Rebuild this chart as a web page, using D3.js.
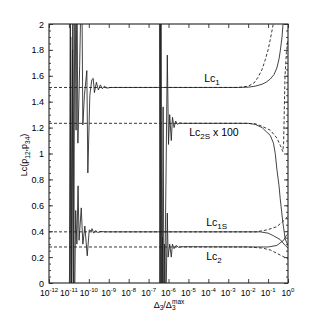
<!DOCTYPE html>
<html>
<head>
<meta charset="utf-8">
<script src="https://cdn.jsdelivr.net/npm/d3@7"></script>
<style>
  body { margin: 0; background: #fff; }
  text { font-family: "Liberation Sans", Arial, sans-serif; fill: #000; }
</style>
</head>
<body>
<script>
"use strict";
(function () {
    // ---- data (x given as log10 of D3/D3max) ----
    const xDecades = d3.range(-12, 1)
    const yTicks = [0, 0.2, 0.4, 0.6, 0.8, 1, 1.2, 1.4, 1.6, 1.8, 2]
    const yMinor = d3.range(0, 2.0001, 0.05)

    // solid curves
    const lc1 = [[-10.95,-0.5],[-10.91,1.9],[-10.87,-0.5],[-10.82,1.8],[-10.77,-0.5],[-10.70,2.5],[-10.64,1.18],[-10.60,2.5],
        [-10.55,1.08],[-10.46,1.68],[-10.36,2.5],[-10.30,1.22],[-10.22,1.45],[-10.10,1.64],[-10.05,0.85],[-9.95,1.45],
        [-9.85,1.57],[-9.78,1.58],[-9.72,1.47],[-9.62,1.55],[-9.52,1.49],[-9.42,1.53],[-9.32,1.50],[-9.22,1.52],
        [-9.10,1.505],[-8.9,1.51],[-2.5,1.51],[-2.0,1.512],[-1.65,1.52],[-1.3,1.535],[-1.1,1.55],[-0.89,1.575],
        [-0.7,1.61],[-0.56,1.66],[-0.45,1.73],[-0.39,1.79],[-0.3,1.9],[-0.25,2.0],[-0.2,2.1]]
    const lc2s = [[-6.46,2.5],[-6.42,-0.5],[-6.38,2.5],[-6.33,-0.5],[-6.27,1.36],[-6.22,-0.5],[-6.12,0.9],[-6.06,1.76],
        [-6.0,1.07],[-5.94,1.30],[-5.86,1.10],[-5.80,1.28],[-5.72,1.20],[-5.64,1.25],[-5.55,1.225],[-5.45,1.236],
        [-5.3,1.233],[-2.0,1.233],[-1.65,1.225],[-1.3,1.2],[-1.1,1.17],[-0.89,1.14],[-0.73,1.08],[-0.64,1.0],
        [-0.56,0.88],[-0.45,0.75],[-0.39,0.65],[-0.26,0.47],[-0.14,0.34],[0,0.29]]
    const lc1s = [[-10.98,-0.5],[-10.93,2.5],[-10.88,-0.5],[-10.80,2.5],[-10.74,-0.5],[-10.66,0.56],[-10.60,0.30],
        [-10.54,0.75],[-10.49,0.33],[-10.38,0.58],[-10.30,0.30],[-10.20,0.44],[-10.08,0.21],[-9.98,0.41],[-9.88,0.40],
        [-9.84,0.42],[-9.76,0.385],[-9.66,0.405],[-9.55,0.39],[-9.4,0.398],[-9.2,0.395],[-1.4,0.395],[-1.0,0.385],
        [-0.73,0.365],[-0.39,0.335],[-0.14,0.29],[0,0.27]]
    const lc2 = [[-6.44,-0.5],[-6.40,2.5],[-6.36,-0.5],[-6.30,0.35],[-6.26,-0.5],[-6.20,0.3],[-6.14,-0.3],[-6.06,0.54],
        [-6.02,0.20],[-5.94,0.30],[-5.86,0.20],[-5.80,0.30],[-5.72,0.265],[-5.62,0.29],[-5.5,0.276],[-5.35,0.28],
        [-1.0,0.278],[-0.56,0.29],[-0.22,0.33],[-0.07,0.37],[0,0.38]]

    // dashed curves
    const lc1Dash = [[-12,1.51],[-2.5,1.51],[-2.0,1.52],[-1.7,1.545],[-1.5,1.59],[-1.3,1.65],[-1.15,1.72],[-1.0,1.80],
        [-0.89,1.88],[-0.74,2.0],[-0.6,2.15]]
    const lc2sDash = [[-12,1.233],[-2.2,1.233],[-1.65,1.23],[-1.3,1.21],[-0.89,1.18],[-0.56,1.12],[-0.38,1.06],
        [-0.3,1.03],[-0.26,1.015],[-0.22,1.08],[-0.19,1.3],[-0.15,1.6],[-0.08,1.78],[0,1.88]]
    const lc1sDash = [[-12,0.395],[-1.6,0.395],[-1.05,0.41],[-0.56,0.435],[-0.26,0.475],[-0.14,0.49],[0,0.52]]
    const lc2Dash = [[-12,0.278],[-2,0.278],[-1.3,0.27],[-0.89,0.255],[-0.39,0.216],[-0.06,0.19],[0,0.185]]

    // curve labels: [main, subscript, tail, log x, y]
    const curveLabels = [
        ["Lc", "1", "", -4.21, 1.552],
        ["Lc", "2S", " x 100", -4.96, 1.135],
        ["Lc", "1S", "", -4.11, 0.44],
        ["Lc", "2", "", -4.11, 0.178]
    ]

    // dimensions
    const measurements = { width: 314, height: 313, left: 49, right: 288, top: 24, bottom: 283 }

    const svgContainer = d3.select("body").append("svg")
        .attr("width", measurements.width)
        .attr("height", measurements.height)

    const scaleX = d3.scaleLog()
        .domain([1e-12, 1])
        .range([measurements.left, measurements.right])
    const scaleY = d3.scaleLinear()
        .domain([0, 2])
        .range([measurements.bottom, measurements.top])

    svgContainer.append("clipPath").attr("id", "plotclip")
        .append("rect")
        .attr("x", measurements.left).attr("y", measurements.top)
        .attr("width", measurements.right - measurements.left)
        .attr("height", measurements.bottom - measurements.top)

    const line = d3.line()
        .x(d => scaleX(Math.pow(10, d[0])))
        .y(d => scaleY(d[1]))

    const plot = svgContainer.append("g").attr("clip-path", "url(#plotclip)")

    // dashed curves first, solid ones on top
    ;[lc1Dash, lc2sDash, lc1sDash, lc2Dash].forEach(c => {
        plot.append("path").datum(c)
            .attr("d", line)
            .attr("fill", "none")
            .attr("stroke", "#222")
            .attr("stroke-width", 0.9)
            .attr("stroke-dasharray", "3,2")
    })
    ;[lc1, lc2s, lc1s, lc2].forEach(c => {
        plot.append("path").datum(c)
            .attr("d", line)
            .attr("fill", "none")
            .attr("stroke", "#222")
            .attr("stroke-width", 0.85)
    })

    // axes: ticks pointing inward on all four sides
    function clean(g) { g.select(".domain").remove(); g.selectAll("text").remove(); g.selectAll("line").attr("stroke", "#444") }
    svgContainer.append("g")
        .attr("transform", `translate(0,${measurements.bottom})`)
        .call(d3.axisBottom(scaleX).tickValues(xDecades.map(e => Math.pow(10, e))).tickSize(-4))
        .call(clean)
    svgContainer.append("g")
        .attr("transform", `translate(0,${measurements.top})`)
        .call(d3.axisTop(scaleX).tickValues(xDecades.map(e => Math.pow(10, e))).tickSize(-4))
        .call(clean)
    svgContainer.append("g")
        .attr("transform", `translate(${measurements.left},0)`)
        .call(d3.axisLeft(scaleY).tickValues(yMinor).tickSize(-2))
        .call(clean)
    svgContainer.append("g")
        .attr("transform", `translate(${measurements.left},0)`)
        .call(d3.axisLeft(scaleY).tickValues(yTicks).tickSize(-4))
        .call(clean)
    svgContainer.append("g")
        .attr("transform", `translate(${measurements.right},0)`)
        .call(d3.axisRight(scaleY).tickValues(yMinor).tickSize(-2))
        .call(clean)
    svgContainer.append("g")
        .attr("transform", `translate(${measurements.right},0)`)
        .call(d3.axisRight(scaleY).tickValues(yTicks).tickSize(-4))
        .call(clean)

    svgContainer.append("rect")
        .attr("x", measurements.left).attr("y", measurements.top)
        .attr("width", measurements.right - measurements.left)
        .attr("height", measurements.bottom - measurements.top)
        .attr("fill", "none").attr("stroke", "#222").attr("stroke-width", 1.1)

    // y tick labels
    svgContainer.selectAll(".ylab")
        .data(yTicks).enter().append("text")
        .attr("class", "ylab")
        .attr("x", measurements.left - 5)
        .attr("y", d => scaleY(d) + 3.5)
        .attr("text-anchor", "end")
        .attr("font-size", 9)
        .text(d => d3.format("~g")(d))

    // x tick labels 10^n
    const xl = svgContainer.selectAll(".xlab")
        .data(xDecades).enter().append("text")
        .attr("class", "xlab")
        .attr("x", d => scaleX(Math.pow(10, d)))
        .attr("y", 296)
        .attr("text-anchor", "middle")
        .attr("font-size", 8.5)
    xl.append("tspan").text("10")
    xl.append("tspan").attr("dy", -4).attr("font-size", 6).text(d => d)

    // axis titles
    const xt = svgContainer.append("text")
        .attr("x", 169).attr("y", 308)
        .attr("text-anchor", "middle")
        .attr("font-size", 9)
    xt.append("tspan").text("Δ")
    xt.append("tspan").attr("dy", 2).attr("font-size", 6.5).text("3")
    xt.append("tspan").attr("dy", -2).text("/Δ")
    xt.append("tspan").attr("dy", 2).attr("font-size", 6.5).text("3")
    xt.append("tspan").attr("dy", -6).attr("dx", -3.5).attr("font-size", 6.5).text("max")

    const yt = svgContainer.append("text")
        .attr("transform", "translate(27,155) rotate(-90)")
        .attr("text-anchor", "middle")
        .attr("font-size", 9)
    yt.append("tspan").text("Lc(p")
    yt.append("tspan").attr("dy", 2.5).attr("font-size", 6.5).text("12")
    yt.append("tspan").attr("dy", -2.5).text(",p")
    yt.append("tspan").attr("dy", 2.5).attr("font-size", 6.5).text("34")
    yt.append("tspan").attr("dy", -2.5).text(")")

    // curve labels
    const cl = svgContainer.selectAll(".clab")
        .data(curveLabels).enter().append("text")
        .attr("class", "clab")
        .attr("x", d => scaleX(Math.pow(10, d[3])))
        .attr("y", d => scaleY(d[4]))
        .attr("font-size", 10.5)
    cl.append("tspan").text(d => d[0])
    cl.append("tspan").attr("dy", 3).attr("font-size", 8).text(d => d[1])
    cl.append("tspan").attr("dy", -3).text(d => d[2])
})()
</script>
</body>
</html>
